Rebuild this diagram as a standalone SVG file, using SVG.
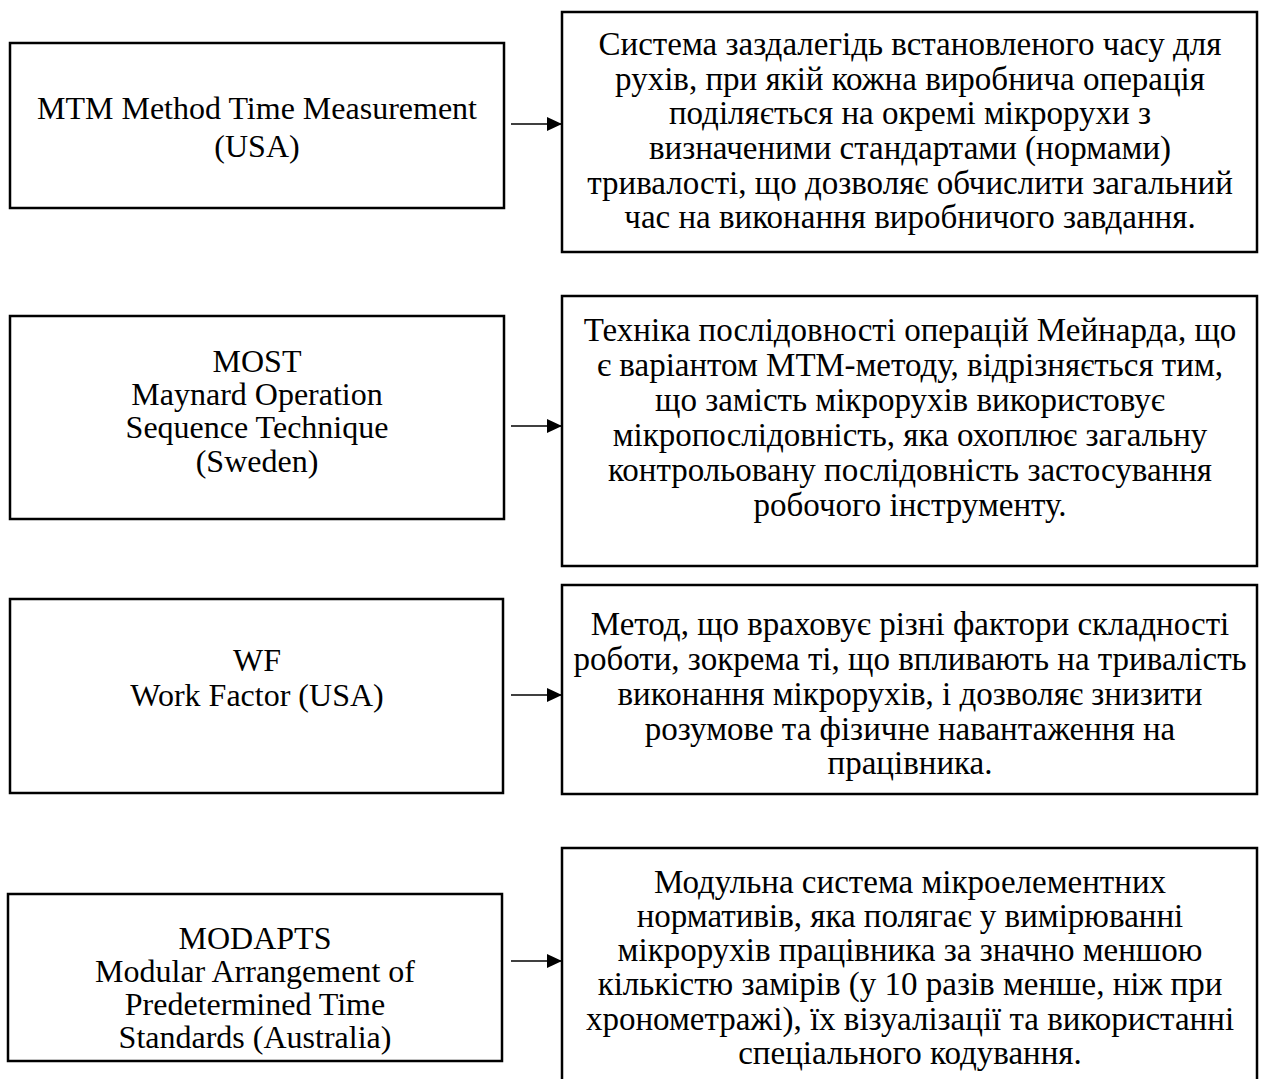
<svg xmlns="http://www.w3.org/2000/svg" width="1265" height="1079" viewBox="0 0 1265 1079">
<defs>
<style>
.box{fill:#fff;stroke:#000;stroke-width:2.5}
.t{font-family:"Liberation Serif","Times New Roman",serif;font-size:32px;fill:#000;text-anchor:middle}
.c{font-size:33px}
.conn{stroke:#000;stroke-width:1.6;fill:none}
</style>
<marker id="ah" markerWidth="15" markerHeight="14" refX="15" refY="7" orient="auto" markerUnits="userSpaceOnUse">
<path d="M0,0 L15,7 L0,14 Z" fill="#000"/>
</marker>
</defs>
<rect width="1265" height="1079" fill="#fff"/>
<g id="connectors">
<line class="conn" x1="511" y1="124" x2="562" y2="124" marker-end="url(#ah)"/>
<line class="conn" x1="511" y1="426" x2="562" y2="426" marker-end="url(#ah)"/>
<line class="conn" x1="511" y1="695" x2="562" y2="695" marker-end="url(#ah)"/>
<line class="conn" x1="511" y1="961" x2="562" y2="961" marker-end="url(#ah)"/>
</g>
<g id="mtm">
<rect class="box" x="10" y="43" width="494" height="165"/>
<text class="t" x="257" y="119">MTM Method Time Measurement</text>
<text class="t" x="257" y="157">(USA)</text>
</g>
<g id="mtm-desc">
<rect class="box" x="562" y="12" width="695" height="240"/>
<text class="t c" x="910" y="55">Система заздалегідь встановленого часу для</text>
<text class="t c" x="910" y="90">рухів, при якій кожна виробнича операція</text>
<text class="t c" x="910" y="124">поділяється на окремі мікрорухи з</text>
<text class="t c" x="910" y="159">визначеними стандартами (нормами)</text>
<text class="t c" x="910" y="194">тривалості, що дозволяє обчислити загальний</text>
<text class="t c" x="910" y="228">час на виконання виробничого завдання.</text>
</g>
<g id="most">
<rect class="box" x="10" y="316" width="494" height="203"/>
<text class="t" x="257" y="372">MOST</text>
<text class="t" x="257" y="405">Maynard Operation</text>
<text class="t" x="257" y="438">Sequence Technique</text>
<text class="t" x="257" y="472">(Sweden)</text>
</g>
<g id="most-desc">
<rect class="box" x="562" y="296" width="695" height="270"/>
<text class="t c" x="910" y="341">Техніка послідовності операцій Мейнарда, що</text>
<text class="t c" x="910" y="376">є варіантом МТМ-методу, відрізняється тим,</text>
<text class="t c" x="910" y="411">що замість мікрорухів використовує</text>
<text class="t c" x="910" y="446">мікропослідовність, яка охоплює загальну</text>
<text class="t c" x="910" y="481">контрольовану послідовність застосування</text>
<text class="t c" x="910" y="516">робочого інструменту.</text>
</g>
<g id="wf">
<rect class="box" x="10" y="599" width="493" height="194"/>
<text class="t" x="257" y="671">WF</text>
<text class="t" x="257" y="706">Work Factor (USA)</text>
</g>
<g id="wf-desc">
<rect class="box" x="562" y="585" width="695" height="209"/>
<text class="t c" x="910" y="635">Метод, що враховує різні фактори складності</text>
<text class="t c" x="910" y="670">роботи, зокрема ті, що впливають на тривалість</text>
<text class="t c" x="910" y="705">виконання мікрорухів, і дозволяє знизити</text>
<text class="t c" x="910" y="740">розумове та фізичне навантаження на</text>
<text class="t c" x="910" y="774">працівника.</text>
</g>
<g id="modapts">
<rect class="box" x="8" y="894" width="494" height="167"/>
<text class="t" x="255" y="949">MODAPTS</text>
<text class="t" x="255" y="982">Modular Arrangement of</text>
<text class="t" x="255" y="1015">Predetermined Time</text>
<text class="t" x="255" y="1048">Standards (Australia)</text>
</g>
<g id="modapts-desc">
<rect class="box" x="562" y="848" width="695" height="240"/>
<text class="t c" x="910" y="893">Модульна система мікроелементних</text>
<text class="t c" x="910" y="927">нормативів, яка полягає у вимірюванні</text>
<text class="t c" x="910" y="961">мікрорухів працівника за значно меншою</text>
<text class="t c" x="910" y="995">кількістю замірів (у 10 разів менше, ніж при</text>
<text class="t c" x="910" y="1030">хронометражі), їх візуалізації та використанні</text>
<text class="t c" x="910" y="1064">спеціального кодування.</text>
</g>
</svg>
